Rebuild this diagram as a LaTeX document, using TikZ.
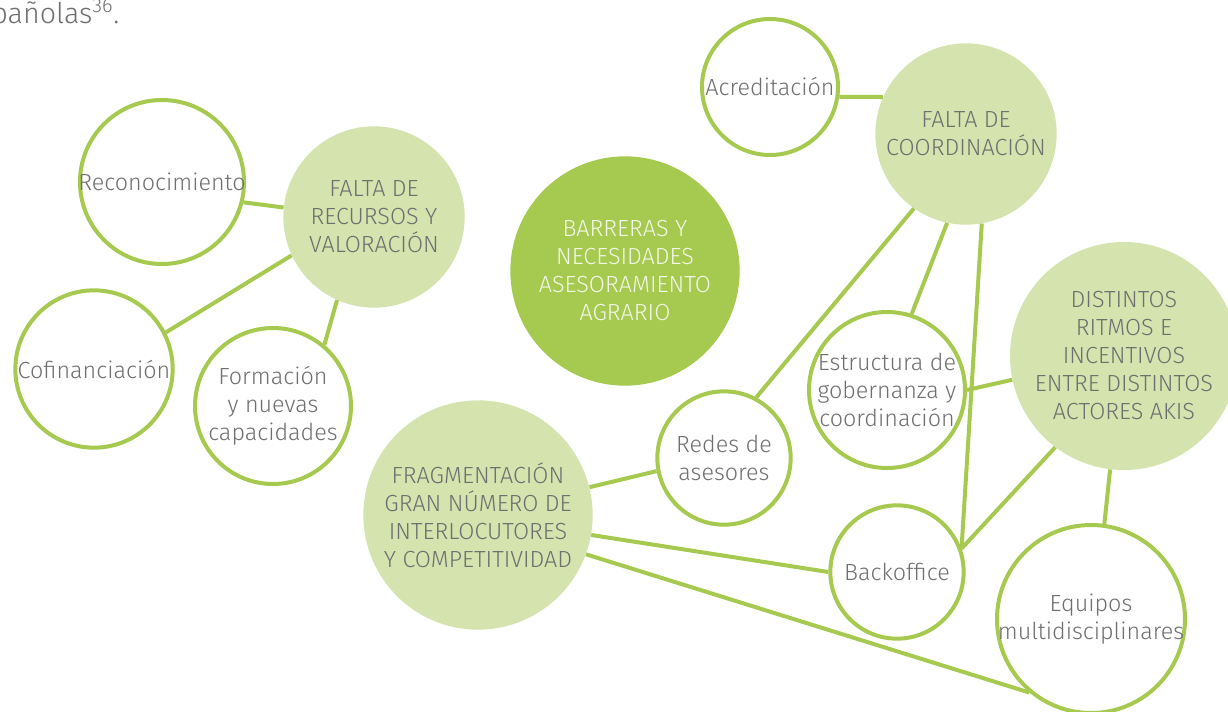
\documentclass[tikz,border=0pt]{standalone}
\usepackage{fontspec}
\setmainfont{Fira Sans}[UprightFont={* Light}]
\definecolor{leaf}{HTML}{A6C94F}
\definecolor{pale}{HTML}{D5E3AF}
\definecolor{ink}{HTML}{6F6F6F}
\definecolor{chalk}{HTML}{F3F7E8}

\begin{document}
\begin{tikzpicture}[x=0.75pt,y=-0.75pt,
  every node/.style={inner sep=0pt},
  txt/.style={text=ink,align=center,font=\fontsize{17.5}{21}\selectfont},
  ring/.style={circle,draw=leaf,line width=3pt,fill=white,minimum size=#1},
  blob/.style={circle,fill=pale,minimum size=#1},
  link/.style={draw=leaf,line width=3pt}]
  \clip (0,0) rectangle (1228,711);
  % leftover of the running text
  \node[text=ink,font=\fontsize{21.5}{25}\selectfont,anchor=base west] (tail) at (-9,23) {pañolas\textsuperscript{36}.};

  % left group
  \node[blob=136pt,label={[txt]center:FALTA DE\\RECURSOS Y\\VALORACIÓN}] (recursos) at (374,217) {};
  \node[ring=123pt,label={[txt]center:Reconocimiento}] (recon) at (162,182) {};
  \node[ring=118pt,label={[txt]center:Cofinanciación}] (cofin) at (94,369) {};
  \node[ring=117pt,label={[txt]center:Formación\\y nuevas\\capacidades}] (formac) at (273,406) {};
  \draw[link] (recon.346) -- (recursos.174);
  \draw[link] (cofin.27) -- (recursos.205);
  \draw[link] (formac.50) -- (recursos.246);

  % centre
  \node[circle,fill=leaf,minimum size=172pt,
    label={[txt,text=chalk]center:BARRERAS Y\\NECESIDADES\\ASESORAMIENTO\\AGRARIO}] (barreras) at (625,271) {};

  % right group
  \node[blob=136pt,label={[txt]center:FALTA DE\\COORDINACIÓN}] (coord) at (966,134) {};
  \node[ring=102pt,label={[txt]center:Acreditación}] (acred) at (770,87) {};
  \node[blob=171pt,label={[txt]center:DISTINTOS\\RITMOS E\\INCENTIVOS\\ENTRE DISTINTOS\\ACTORES AKIS}] (ritmos) at (1124,356) {};
  \node[ring=117pt,label={[txt]center:Estructura de\\gobernanza y\\coordinación}] (gober) at (887,390) {};
  \node[ring=100pt,label={[txt]center:Redes de\\asesores}] (redes) at (724,458) {};
  \node[ring=100pt,label={[txt]center:Backoffice}] (backo) at (897,572) {};
  \node[ring=141pt,label={[txt]center:Equipos\\multidisciplinares}] (equipos) at (1091,619) {};
  \node[blob=172pt,label={[txt]center:FRAGMENTACIÓN\\GRAN NÚMERO DE\\INTERLOCUTORES\\Y COMPETITIVIDAD}] (frag) at (478,515) {};

  \draw[link] (acred.352) -- (coord.156);
  \draw[link] (coord.235) -- (redes.62);
  \draw[link] (coord.258) -- (gober.72);
  \draw[link] (coord.280) -- (backo.20);
  \draw[link] (gober.0) -- (ritmos.192);
  \draw[link] (ritmos.233) -- (backo.20);
  \draw[link] (ritmos.263) -- (equipos.82);
  \draw[link] (frag.14) -- (redes.191);
  \draw[link] (frag.350) -- (backo.180);
  \draw[link] (frag.340) -- (equipos.230);
\end{tikzpicture}
\end{document}
